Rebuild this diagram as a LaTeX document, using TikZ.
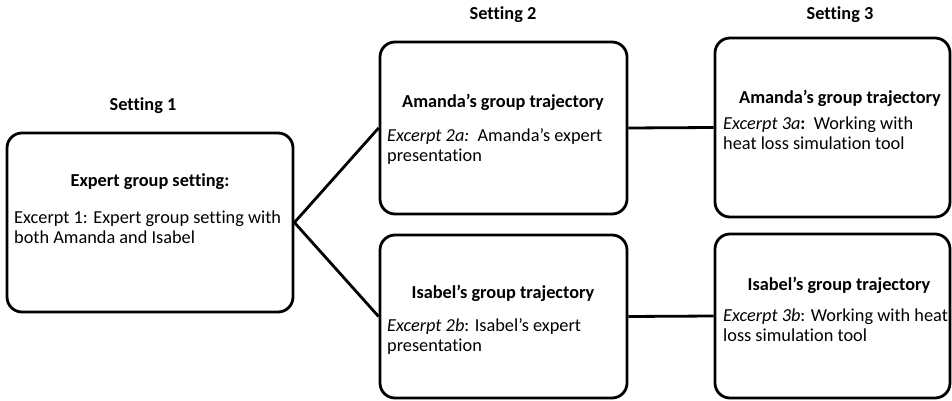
\documentclass[tikz,border=0pt]{standalone}
\usepackage{fontspec}
\setmainfont{Carlito}[Ligatures=CommonOff]
\usetikzlibrary{positioning}

\begin{document}
\begin{tikzpicture}[
  x=1pt, y=-1pt,
  box/.style={rectangle, draw, rounded corners=15pt, line width=2.8pt,
              inner sep=0pt},
  head/.style={font=\fontsize{18.3}{20}\selectfont\bfseries, inner sep=0pt},
  body/.style={font=\fontsize{18.3}{20}\selectfont, align=left, anchor=west,
               inner sep=0pt},
  conn/.style={line width=2.8pt}
]
  \useasboundingbox (0,0) rectangle (952,401);

  % Boxes
  \node[box, minimum width=286pt, minimum height=179pt] (expert)   at (150,222.5) {};
  \node[box, minimum width=247pt, minimum height=172pt] (amandaA)  at (503.5,128) {};
  \node[box, minimum width=247pt, minimum height=163pt] (isabelA)  at (503.5,316.5) {};
  \node[box, minimum width=235pt, minimum height=179pt] (amandaB)  at (832.5,127.5) {};
  \node[box, minimum width=235pt, minimum height=164pt] (isabelB)  at (832.5,316) {};

  % Setting labels
  \node[head] (set1) at (143,106) {Setting 1};
  \node[head] (set2) at (503,15)  {Setting 2};
  \node[head] (set3) at (840,15)  {Setting 3};

  % Box titles
  \node[head] (expertT)  at (150,182) {Expert group setting:};
  \node[head] (amandaAT) at (503,102) {Amanda’s group trajectory};
  \node[head] (isabelAT) at (503,293) {Isabel’s group trajectory};
  \node[head] (amandaBT) at (840,98)  {Amanda’s group trajectory};
  \node[head] (isabelBT) at (839,285) {Isabel’s group trajectory};

  % Excerpts
  \node[body] (expertX)  at (14,227)  {Excerpt 1: Expert group setting with\\both Amanda and Isabel};
  \node[body] (amandaAX) at (387,147) {\textit{Excerpt 2a:}\ \ Amanda’s expert\\presentation};
  \node[body] (isabelAX) at (387,337) {\textit{Excerpt 2b}: Isabel’s expert\\presentation};
  \node[body] (amandaBX) at (723,133) {\textit{Excerpt 3a}\textbf{:}\ \ Working with\\heat loss simulation tool};
  \node[body] (isabelBX) at (723,325) {\textit{Excerpt 3b}: Working with heat\\loss simulation tool};

  \draw[conn] (expert.east) -- (amandaA.west);
  \draw[conn] (expert.east) -- (isabelA.west);
  \draw[conn] (amandaA.east) -- (amandaB.west);
  \draw[conn] (isabelA.east) -- (isabelB.west);
\end{tikzpicture}
\end{document}
